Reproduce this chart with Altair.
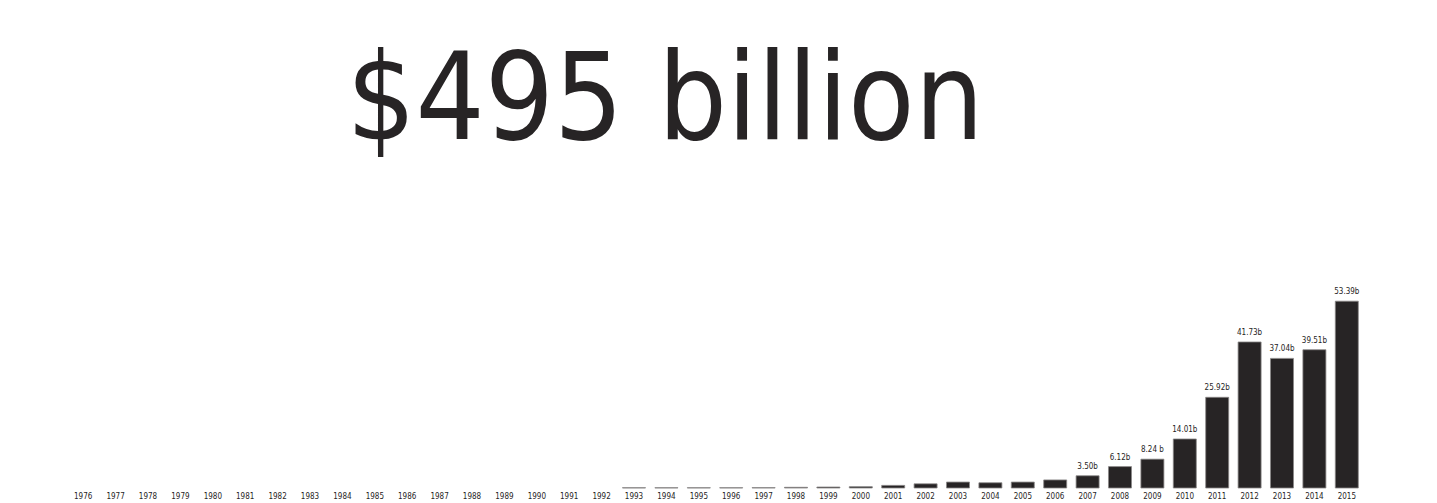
import altair as alt
import pandas as pd

years = [str(y) for y in range(1976, 2016)]
values = [0, 0, 0, 0, 0, 0, 0, 0, 0, 0,
          0, 0, 0, 0, 0, 0, 0, 0.08, 0.08, 0.08,
          0.08, 0.1, 0.2, 0.28, 0.38, 0.75, 1.2, 1.7, 1.5, 1.7,
          2.3, 3.50, 6.12, 8.24, 14.01, 25.92, 41.73, 37.04, 39.51, 53.39]
labels = [""] * 31 + ["3.50b", "6.12b", "8.24 b", "14.01b", "25.92b",
                      "41.73b", "37.04b", "39.51b", "53.39b"]
headline = "$495 billion"

df = pd.DataFrame({"year": years, "value": values, "label": labels})
head_df = pd.DataFrame({"t": [headline]})

FONT = "DejaVu Sans Condensed, sans-serif"
DARK = "#272425"

x = alt.X("year:N", sort=years,
          scale=alt.Scale(paddingInner=0.29, paddingOuter=0.145),
          axis=alt.Axis(title=None, labelAngle=0, ticks=False, domain=False,
                        labelFont=FONT, labelFontSize=8, labelColor=DARK,
                        labelPadding=4, labelOverlap=False))
y = alt.Y("value:Q", scale=alt.Scale(domain=[0, 62.3], nice=False),
          axis=None)

bars = alt.Chart(df).transform_filter("datum.value > 0").mark_bar(
    color=DARK, stroke="#8a8888", strokeWidth=0.8).encode(x=x, y=y)
text = alt.Chart(df).mark_text(font=FONT, fontSize=8, color=DARK,
                               baseline="bottom", dy=-5).encode(
    x=alt.X("year:N", sort=years), y="value:Q", text="label:N")
head = alt.Chart(head_df).mark_text(font=FONT, fontSize=121, color=DARK,
                                    align="center", baseline="alphabetic").encode(
    x=alt.value(598), y=alt.value(-131), text="t:N")

chart = alt.layer(bars, text, head).properties(
    width=1296, height=218,
    autosize=alt.AutoSizeParams(type="none"),
    padding={"left": 67, "top": 270, "right": 74, "bottom": 15},
    background="white",
).configure_view(stroke=None)

chart.save("out.html", embed_options={"renderer": "svg", "actions": False})
